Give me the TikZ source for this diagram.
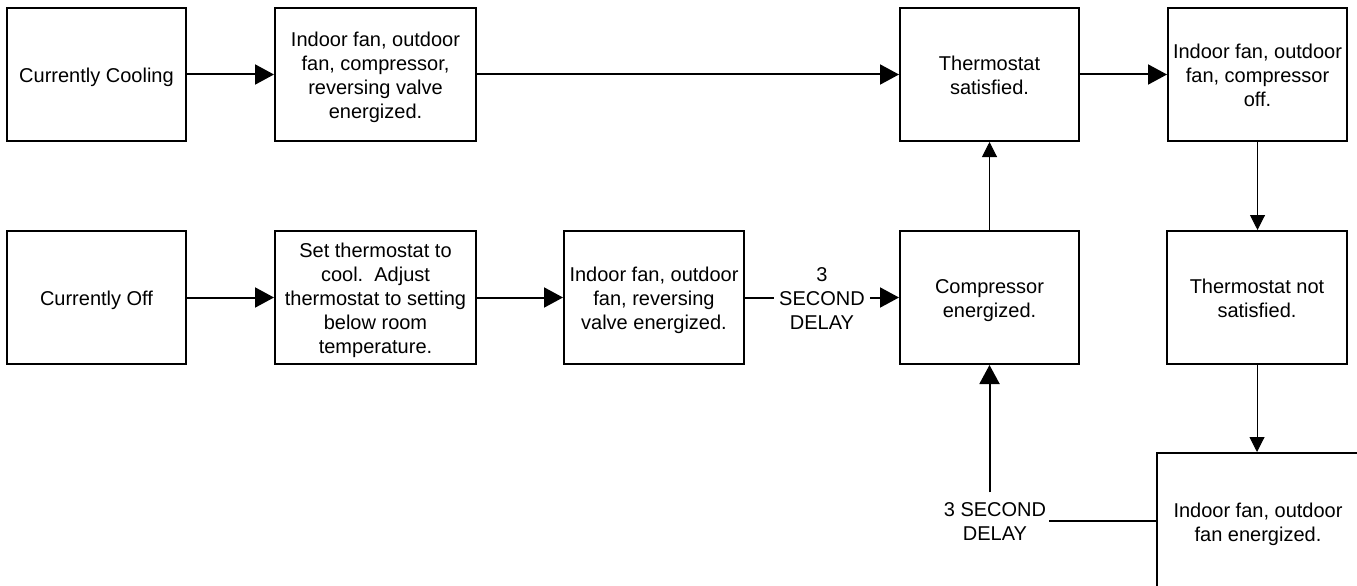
\documentclass[tikz,border=0pt]{standalone}
\usepackage{fontspec}
\setmainfont{Liberation Sans}
\usetikzlibrary{arrows.meta}
\newcommand\ls{\rule[-4.3pt]{0pt}{24pt}}
\begin{document}
\begin{tikzpicture}[x=1pt,y=-1pt,
  box/.style={draw, line width=2pt, minimum width=#1, minimum height=133pt,
    align=center, inner sep=0pt, font=\fontsize{20}{24}\selectfont},
  lbl/.style={align=center, font=\fontsize{20}{24}\selectfont},
  thick arrow/.style={line width=2pt, -{Triangle[length=19pt,width=20pt]}},
  thin arrow/.style={line width=1pt, -{Triangle[length=15pt,width=15pt]}},
  thick line/.style={line width=2pt}]
\useasboundingbox (0,0) rectangle (1357,586);
\fill[white] (0,0) rectangle (1357,586);
\clip (0,0) rectangle (1357,586);
% row 1
\node[box=179pt] (c1) at (96.5,74.5) {\ls Currently Cooling};
\node[box=201pt] (c2) at (375.5,74.5) {\ls Indoor fan, outdoor\\\ls fan, compressor,\\\ls reversing valve\\\ls energized.};
\node[box=179pt] (ts) at (989.5,74.5) {\ls Thermostat\\\ls satisfied.};
\node[box=179pt] (off) at (1257.5,74.5) {\ls Indoor fan, outdoor\\\ls fan, compressor\\\ls off.};
% row 2
\node[box=179pt] (o1) at (96.5,297.5) {\ls Currently Off};
\node[box=201pt] (o2) at (375.5,297.5) {\ls Set thermostat to\\\ls cool.\ \ Adjust\\\ls thermostat to setting\\\ls below room\\\ls temperature.};
\node[box=180pt] (o3) at (654,297.5) {\ls Indoor fan, outdoor\\\ls fan, reversing\\\ls valve energized.};
\node[box=179pt] (comp) at (989.5,297.5) {\ls Compressor\\\ls energized.};
\node[box=180pt] (tns) at (1257,297.5) {\ls Thermostat not\\\ls satisfied.};
% bottom
\node[box=202pt, minimum height=137pt] (bot) at (1258,521.5) {\ls Indoor fan, outdoor\\\ls fan energized.};
% delay labels
\node[lbl, fill=white, inner xsep=5pt, inner ysep=0pt] (d1) at (822,297.5) {\ls 3\\\ls SECOND\\\ls DELAY};
\node[lbl, inner xsep=3pt, inner ysep=4pt] (d2) at (995,520.5) {\ls 3 SECOND\\\ls DELAY};
% connectors
\draw[thick arrow] (c1) -- (c2);
\draw[thick arrow] (c2) -- (ts);
\draw[thick arrow] (ts) -- (off);
\draw[thin arrow] (off.south) -- (off.south |- tns.north);
\draw[thin arrow] (tns.south) -- (tns.south |- bot.north);
\draw[thin arrow] (comp) -- (ts);
\draw[thick arrow] (o1) -- (o2);
\draw[thick arrow] (o2) -- (o3);
\draw[thick line] (o3.east) -- (o3.east -| d1.west);
\draw[thick arrow] (o3.east -| d1.east) -- (comp.west);
\draw[thick arrow] (d2.north -| comp.south) -- (comp.south);
\draw[thick line] (bot.west |- d2.east) -- (d2.east);
\end{tikzpicture}
\end{document}
